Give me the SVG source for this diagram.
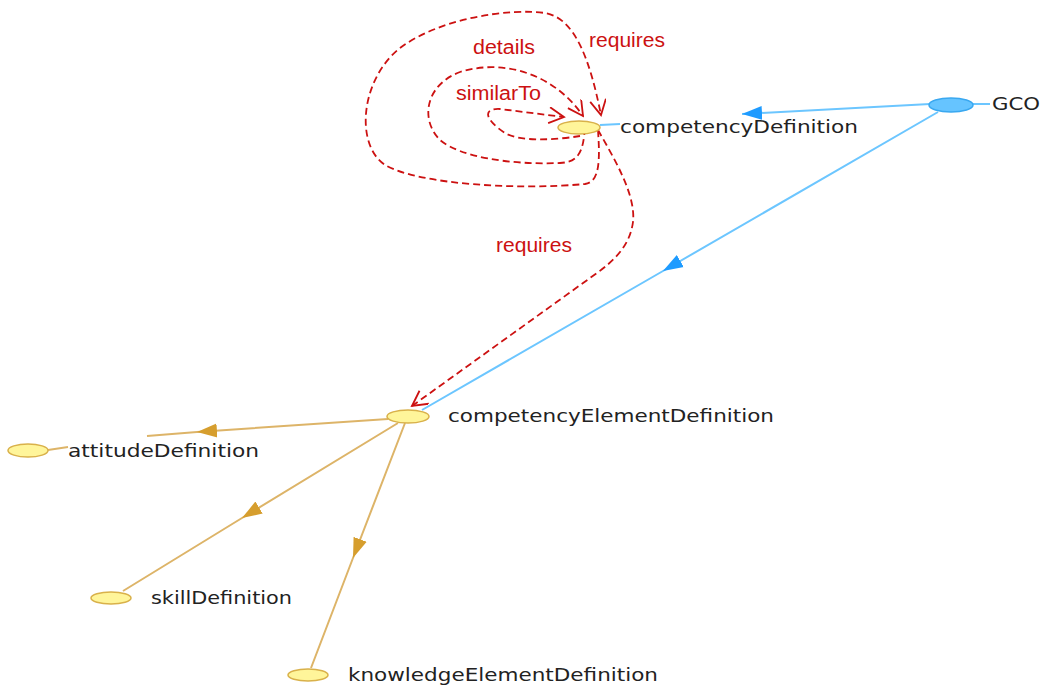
<svg xmlns="http://www.w3.org/2000/svg" width="1042" height="689" viewBox="0 0 1042 689">
<style>
.lbl{font-family:"DejaVu Sans",Verdana,sans-serif;font-size:18px;fill:#222}
.rl{font-family:"Liberation Sans",Arial,sans-serif;font-size:20px;fill:#cc1111}
.gold{stroke:#ddb468;stroke-width:2;fill:none}
.blue{stroke:#6cc6ff;stroke-width:2;fill:none}
.red{stroke:#cc1111;stroke-width:1.8;fill:none;stroke-dasharray:7 4}
.nd{fill:#fff59a;stroke:#d9b14a;stroke-width:1.5}
.gco{fill:#66c4ff;stroke:#3aa8f0;stroke-width:1.5}
</style>
<defs>
<marker id="ga" markerUnits="userSpaceOnUse" markerWidth="22" markerHeight="16" refX="20" refY="8" orient="auto"><path d="M0,1 L20,8 L0,15 z" fill="#d69e2e"/></marker>
<marker id="ba" markerUnits="userSpaceOnUse" markerWidth="22" markerHeight="16" refX="20" refY="8" orient="auto"><path d="M0,1 L20,8 L0,15 z" fill="#1e9bff"/></marker>
<marker id="ra" markerUnits="userSpaceOnUse" markerWidth="18" markerHeight="18" refX="16" refY="8" orient="auto"><path d="M1,0 L16,8 L1,16" fill="none" stroke="#cc1111" stroke-width="1.8"/></marker>
</defs>
<rect width="1042" height="689" fill="#fff"/>
<g id="connectors">
<path class="blue" d="M930,104 L742,114" marker-end="url(#ba)"/>
<path class="blue" d="M620,124 L600,125"/>
<path class="blue" d="M938,112 L663,271 L422,410" marker-mid="url(#ba)"/>
<path class="blue" d="M973,104 L990,104"/>
<path class="gold" d="M388,419 L197,432 L147,436" marker-mid="url(#ga)"/>
<path class="gold" d="M68,447 L48,450"/>
<path class="gold" d="M398,423 L242,518 L123,591" marker-mid="url(#ga)"/>
<path class="gold" d="M405,423 L353,558 L311,668" marker-mid="url(#ga)"/>
<path class="red" d="M580,136 C555,140 520,142 505,133 C485,120 482,108 500,109 L564,117" marker-end="url(#ra)"/>
<path class="red" d="M585,128 C583,150 580,162 560,163 C510,165 460,157 440,140 C420,120 425,85 460,72 C505,58 555,75 583,116" marker-end="url(#ra)"/>
<path class="red" d="M598,130 C600,160 600,182 585,184 C520,190 420,185 385,165 C355,145 360,80 400,48 C440,18 510,8 545,13 C575,18 590,60 601,115" marker-end="url(#ra)"/>
<path class="red" d="M598,130 C615,160 636,195 633,222 C630,245 615,260 597,273 L412,406" marker-end="url(#ra)"/>
<text class="rl" x="589" y="47" textLength="76" lengthAdjust="spacingAndGlyphs">requires</text>
<text class="rl" x="473" y="54" textLength="62" lengthAdjust="spacingAndGlyphs">details</text>
<text class="rl" x="456" y="100" textLength="85" lengthAdjust="spacingAndGlyphs">similarTo</text>
<text class="rl" x="496" y="252" textLength="76" lengthAdjust="spacingAndGlyphs">requires</text>
</g>
<g id="competencyDefinition"><ellipse class="nd" cx="579" cy="127.5" rx="21" ry="6.5"/><text class="lbl" x="620" y="133" textLength="238" lengthAdjust="spacingAndGlyphs">competencyDefinition</text></g>
<g id="GCO"><ellipse class="gco" cx="951" cy="105" rx="22" ry="7"/><text class="lbl" x="992" y="110" textLength="48" lengthAdjust="spacingAndGlyphs">GCO</text></g>
<g id="competencyElementDefinition"><ellipse class="nd" cx="408" cy="416.5" rx="21" ry="6.5"/><text class="lbl" x="448" y="422" textLength="326" lengthAdjust="spacingAndGlyphs">competencyElementDefinition</text></g>
<g id="attitudeDefinition"><ellipse class="nd" cx="28" cy="450.5" rx="20" ry="6.5"/><text class="lbl" x="68" y="457" textLength="191" lengthAdjust="spacingAndGlyphs">attitudeDefinition</text></g>
<g id="skillDefinition"><ellipse class="nd" cx="111" cy="598" rx="20" ry="6"/><text class="lbl" x="151" y="604" textLength="141" lengthAdjust="spacingAndGlyphs">skillDefinition</text></g>
<g id="knowledgeElementDefinition"><ellipse class="nd" cx="308" cy="675" rx="20" ry="6"/><text class="lbl" x="348" y="681" textLength="310" lengthAdjust="spacingAndGlyphs">knowledgeElementDefinition</text></g>
</svg>
